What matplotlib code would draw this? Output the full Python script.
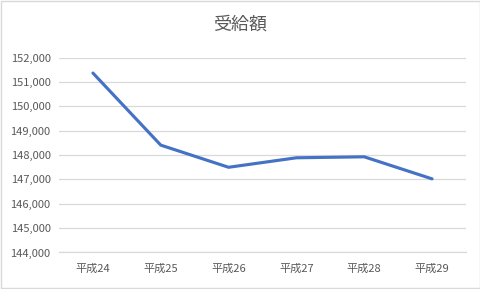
import matplotlib
matplotlib.use("Agg")
import matplotlib.pyplot as plt
from matplotlib.patches import Rectangle
from matplotlib.ticker import FuncFormatter

plt.rcParams["font.family"] = ["Noto Sans CJK JP", "DejaVu Sans"]

years = ["平成24", "平成25", "平成26", "平成27", "平成28", "平成29"]
amounts = [151370, 148410, 147500, 147890, 147930, 147025]
y_ticks = [144000, 145000, 146000, 147000, 148000, 149000, 150000, 151000, 152000]

LINE_COLOR = "#4472C4"
TEXT_COLOR = "#595959"
GRID_COLOR = "#D9D9D9"

fig = plt.figure(figsize=(4.81, 2.89), dpi=100)
fig.patch.set_facecolor("white")
fig.patches.append(Rectangle((0.002, 0.003), 0.995, 0.993, transform=fig.transFigure,
                             fill=False, edgecolor="#D9D9D9", linewidth=1.0))

ax = fig.add_axes([0.1227, 0.1263, 0.846, 0.674])
x = list(range(len(years)))
ax.plot(x, amounts, color=LINE_COLOR, linewidth=2.25, solid_capstyle="round", zorder=3)

ax.set_xlim(-0.5, len(years) - 0.5)
ax.set_ylim(y_ticks[0], y_ticks[-1])
ax.set_yticks(y_ticks)
ax.yaxis.set_major_formatter(FuncFormatter(lambda v, p: f"{int(v):,}"))
ax.set_xticks(x)
ax.set_xticklabels(years)
ax.grid(axis="y", color=GRID_COLOR, linewidth=0.9)
ax.set_axisbelow(True)
for name, s in ax.spines.items():
    s.set_visible(name == "bottom")
ax.spines["bottom"].set_color(GRID_COLOR)
ax.spines["bottom"].set_linewidth(0.9)
ax.tick_params(length=0, labelsize=8, colors=TEXT_COLOR, pad=6)
ax.tick_params(axis="x", pad=8)

fig.text(0.5, 0.913, "受給額", fontsize=13, color=TEXT_COLOR, ha="center", va="center")

fig.savefig("out.png", dpi=100, facecolor="white")
